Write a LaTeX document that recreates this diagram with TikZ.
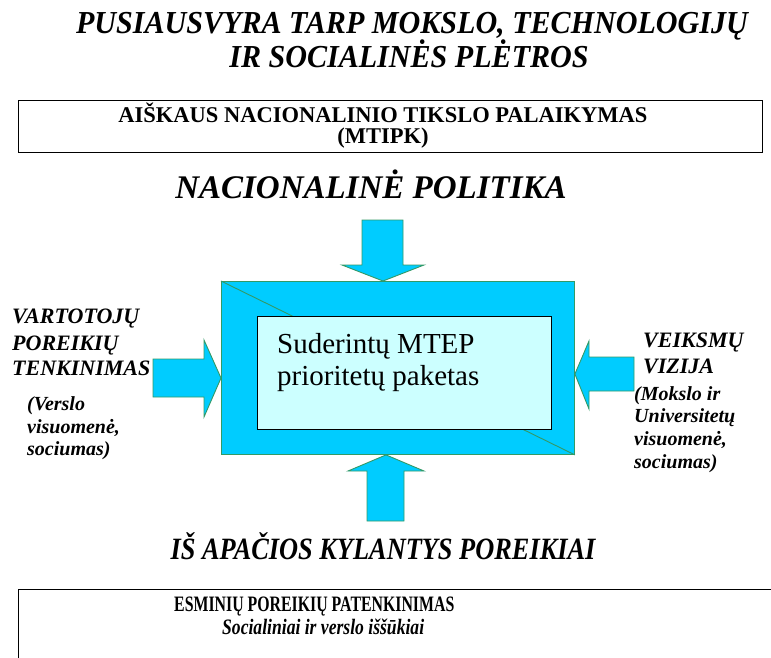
\documentclass[tikz,border=0pt]{standalone}
\usepackage{fontspec}
\setmainfont{Liberation Serif}
\newfontfamily\titlefont[FakeStretch=0.94]{Liberation Serif}
\newfontfamily\headfont[FakeStretch=0.85]{Liberation Serif}
\newfontfamily\condfont[FakeStretch=0.72]{Liberation Serif}
\newfontfamily\semicondfont[FakeStretch=0.8]{Liberation Serif}
\definecolor{cyanfill}{RGB}{0,204,255}
\definecolor{greenedge}{RGB}{51,153,102}
\definecolor{paleblue}{RGB}{204,255,255}
\tikzset{
  blockarrow/.style={fill=cyanfill, draw=greenedge, line width=0.9pt, line join=miter},
  textbox/.style={draw=black, line width=1.3pt, inner sep=0pt, anchor=north west},
  bigtitle/.style={font=\titlefont\fontsize{32}{34}\selectfont\bfseries\itshape, inner sep=0pt, anchor=base},
  heading/.style={font=\fontsize{33}{36}\selectfont\bfseries\itshape, inner sep=0pt, anchor=base},
  sidecap/.style={font=\fontsize{22}{26}\selectfont\bfseries\itshape, inner sep=0pt, anchor=base west},
  sidesub/.style={font=\fontsize{20}{23}\selectfont\bfseries\itshape, inner sep=0pt, anchor=base west},
  boxtext/.style={font=\fontsize{22.5}{22}\selectfont\bfseries, inner sep=0pt, anchor=base},
}
\begin{document}
\begin{tikzpicture}[x=1pt,y=-1pt]
\useasboundingbox (0,0) rectangle (771,657);

% title
\node[bigtitle] (t1) at (412,33) {PUSIAUSVYRA TARP MOKSLO, TECHNOLOGIJŲ};
\node[bigtitle] (t2) at (409,67) {IR SOCIALINĖS PLĖTROS};

% top box
\node[textbox, minimum width=744pt, minimum height=52pt] (topbox) at (18,100) {};
\node[boxtext] (tb1) at (383,122) {AIŠKAUS NACIONALINIO TIKSLO PALAIKYMAS};
\node[boxtext] (tb2) at (383,143) {(MTIPK)};

% headings
\node[heading] (np) at (371,198) {NACIONALINĖ POLITIKA};
\node[heading, font=\headfont\fontsize{31}{34}\selectfont\bfseries\itshape] (ia) at (383,559) {IŠ APAČIOS KYLANTYS POREIKIAI};

% central block
\node[fill=cyanfill, draw=greenedge, line width=0.9pt, inner sep=0pt, anchor=north west,
      minimum width=353pt, minimum height=173pt] (outer) at (221,281) {};
\draw[greenedge, line width=0.9pt] (outer.north west) -- (outer.south east);
\node[fill=paleblue, draw=black, line width=1.3pt, inner sep=0pt, anchor=north west,
      minimum width=294pt, minimum height=113pt] (inner) at (257,316) {};
\node[font=\fontsize{29}{32}\selectfont, align=left, inner sep=0pt, anchor=base west]
      (pkg) at (277,385) {Suderintų MTEP\\prioritetų paketas};

% block arrows
\draw[blockarrow] (362,220) -- (403,220) -- (403,265) -- (424,265) -- (outer.north -| 383,0)
  -- (342,265) -- (362,265) -- cycle;
\draw[blockarrow] (367,521) -- (367,471) -- (348,471) -- (outer.south -| 386,0)
  -- (424,471) -- (404,471) -- (404,521) -- cycle;
\draw[blockarrow] (153,359) -- (204,359) -- (204,340) -- (outer.west |- 0,378)
  -- (204,417) -- (204,397) -- (153,397) -- cycle;
\draw[blockarrow] (634,357) -- (589,357) -- (589,341) -- (outer.east |- 0,374)
  -- (589,409) -- (589,391) -- (634,391) -- cycle;

% left labels
\node[sidecap] (l1) at (12,323) {VARTOTOJŲ};
\node[sidecap] (l2) at (12,350) {POREIKIŲ};
\node[sidecap] (l3) at (12,375) {TENKINIMAS};
\node[sidesub] (l4) at (27,410) {(Verslo};
\node[sidesub] (l5) at (27,433) {visuomenė,};
\node[sidesub] (l6) at (27,455) {sociumas)};

% right labels
\node[sidecap] (r1) at (643,347) {VEIKSMŲ};
\node[sidecap] (r2) at (643,373) {VIZIJA};
\node[sidesub] (r3) at (634,400) {(Mokslo ir};
\node[sidesub] (r4) at (634,422) {Universitetų};
\node[sidesub] (r5) at (634,445) {visuomenė,};
\node[sidesub] (r6) at (634,468) {sociumas)};

% bottom box
\node[textbox, minimum width=770pt, minimum height=100pt] (botbox) at (18,589) {};
\node[inner sep=0pt, anchor=base west, font=\condfont\fontsize{22}{22}\selectfont\bfseries]
      (bb1) at (174,611) {ESMINIŲ POREIKIŲ PATENKINIMAS};
\node[inner sep=0pt, anchor=base west, font=\semicondfont\fontsize{22}{22}\selectfont\bfseries\itshape]
      (bb2) at (222,634) {Socialiniai ir verslo iššūkiai};
\end{tikzpicture}
\end{document}
